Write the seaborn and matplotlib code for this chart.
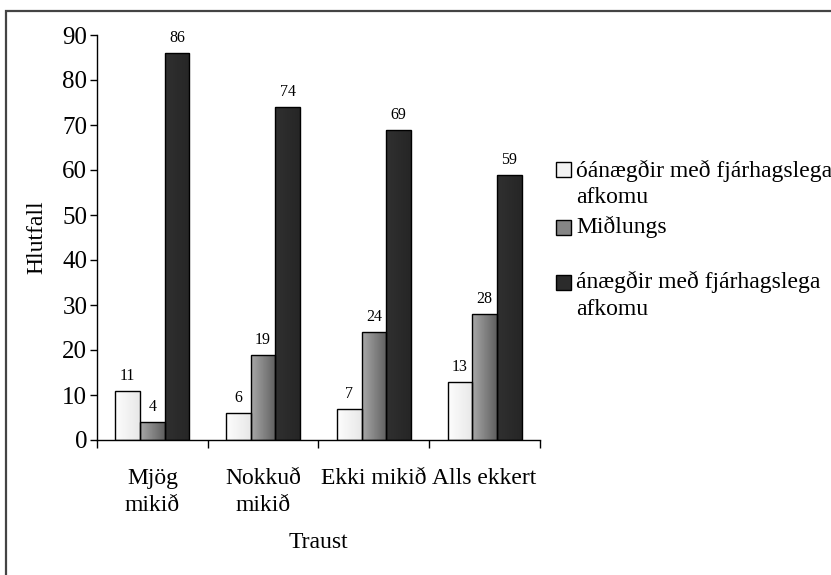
import numpy as np
import pandas as pd
import matplotlib
matplotlib.use("Agg")
import matplotlib.pyplot as plt
from matplotlib.patches import Rectangle
from matplotlib.colors import LinearSegmentedColormap
import seaborn as sns

# Trust categories and share (%) in each satisfaction group
categories = ["Mjög\nmikið", "Nokkuð\nmikið", "Ekki mikið", "Alls ekkert"]
series = ["óánægðir með fjárhagslega afkomu", "Miðlungs", "ánægðir með fjárhagslega afkomu"]
legend_lines = [["óánægðir með fjárhagslega", "afkomu"], ["Miðlungs"],
                ["ánægðir með fjárhagslega", "afkomu"]]
unhappy = [11, 6, 7, 13]
middle = [4, 19, 24, 28]
happy = [86, 74, 69, 59]
yticks = [0, 10, 20, 30, 40, 50, 60, 70, 80, 90]

df = pd.DataFrame({
    "Traust": categories * 3,
    "hópur": [series[0]] * 4 + [series[1]] * 4 + [series[2]] * 4,
    "Hlutfall": unhappy + middle + happy,
})

sns.set_theme(style="white")
plt.rcParams["font.family"] = ["Liberation Serif", "DejaVu Serif"]

face = ["#f3f3f3", "#858585", "#2b2b2b"]
grad = [("#fdfdfd", "#e8e8e8"), ("#a8a8a8", "#606060"), ("#303030", "#262626")]

W, H = 831, 575
fig = plt.figure(figsize=(W / 100, H / 100), dpi=100)
ax = fig.add_axes([97 / W, 1 - 440 / H, (540 - 97) / W, (440 - 35) / H])

sns.barplot(data=df, x="Traust", y="Hlutfall", hue="hópur", hue_order=series,
            order=categories, palette=face, width=0.667, edgecolor="black",
            linewidth=1.0, saturation=1, legend=False, ax=ax)

ax.set_ylim(0, 90)
ax.set_xlim(-0.5, len(categories) - 0.5)

# Horizontal shading inside each bar
for i, cont in enumerate(ax.containers):
    cmap = LinearSegmentedColormap.from_list(f"g{i}", grad[i])
    for p in cont.patches:
        x0, w, h = p.get_x(), p.get_width(), p.get_height()
        img = ax.imshow(np.linspace(0, 1, 64).reshape(1, -1), cmap=cmap, aspect="auto",
                        extent=[x0, x0 + w, 0, h], zorder=p.get_zorder() - 0.1,
                        interpolation="bicubic")
        img.set_clip_path(p)
        p.set_facecolor("none")
        p.set_zorder(3)
    ax.bar_label(cont, fmt="%.0f", padding=5, fontsize=11.5, color="black")

ax.set_xlim(-0.5, len(categories) - 0.5)
ax.set_ylim(0, 90)

# Axes styling
for side in ["top", "right"]:
    ax.spines[side].set_visible(False)
for side in ["left", "bottom"]:
    ax.spines[side].set_color("black")
    ax.spines[side].set_linewidth(1.0)

ax.set_yticks(yticks)
ax.tick_params(axis="y", which="major", direction="out", length=5, width=1,
               color="black", labelsize=18, pad=2, left=True)
ax.set_xticks(range(len(categories)))
ax.set_xticklabels(categories, fontsize=17, linespacing=1.32)
ax.tick_params(axis="x", which="major", length=0, pad=20.5, labelsize=17)
ax.set_xticks([k - 0.5 for k in range(len(categories) + 1)], minor=True)
ax.tick_params(axis="x", which="minor", direction="out", length=6, width=1,
               color="black", bottom=True)
for lbl in ax.get_xticklabels() + ax.get_yticklabels():
    lbl.set_color("black")

ax.set_xlabel("Traust", fontsize=17, color="black", labelpad=11.5)
ax.set_ylabel("Hlutfall", fontsize=17, color="black", labelpad=11)
ax.grid(False)

# Legend drawn with square keys aligned to the first text line
key_top = [162.5, 220, 275]
baselines = [[177, 203], [233], [288, 315]]
for col, lines, kt, bl in zip(face, legend_lines, key_top, baselines):
    fig.add_artist(Rectangle((556 / W, 1 - (kt + 14.5) / H), 14.5 / W, 14.5 / H,
                             transform=fig.transFigure, facecolor=col,
                             edgecolor="black", linewidth=1.0))
    for txt, y in zip(lines, bl):
        fig.text(576 / W, 1 - y / H, txt, fontsize=17, va="baseline", ha="left",
                 color="black")

# Chart frame
fig.add_artist(Rectangle((5.5 / W, -0.05), 1.2, 1 - 11 / H + 0.05,
                         transform=fig.transFigure, facecolor="none",
                         edgecolor="#444444", linewidth=1.6, clip_on=False))

fig.savefig("out.png", dpi=100)
